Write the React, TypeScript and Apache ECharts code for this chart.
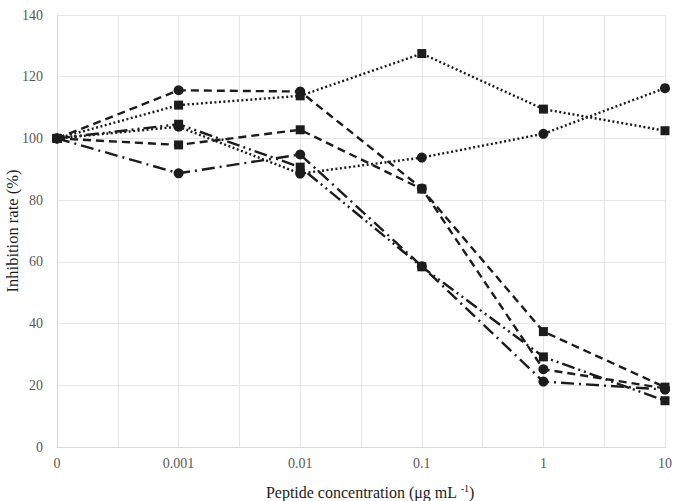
import React, { useEffect, useRef } from "react";
import * as echarts from "echarts";

const categories = ["0", "0.001", "0.01", "0.1", "1", "10"];
const dottedSquare = [100, 110.8, 113.8, 127.5, 109.5, 102.5];
const dottedCircle = [100, 103.8, 88.6, 93.8, 101.5, 116.3];
const dashedCircle = [100, 115.6, 115.2, 83.8, 25.2, 19.0];
const dashedSquare = [100, 97.9, 102.8, 83.6, 37.4, 19.4];
const dashDotCircle = [100, 88.7, 94.8, 58.6, 21.2, 18.6];
const dashDotDotSquare = [100, 104.6, 90.7, 58.4, 29.2, 15.0];
const yTicks = [0, 20, 40, 60, 80, 100, 120, 140];

const FONT = "'Liberation Serif', 'Times New Roman', serif";
const INK = "#1c1c1c";

function toPoints(values: number[]) {
  return values.map((v, i) => [i, v]);
}

export default function App() {
  const ref = useRef<HTMLDivElement>(null);
  useEffect(() => {
    if (!ref.current) return;
    const chart = echarts.init(ref.current, undefined, { renderer: "svg" });
    const mk = (
      name: string,
      values: number[],
      symbol: string,
      dash: number[] | string
    ) => ({
      name,
      type: "line",
      data: toPoints(values),
      symbol,
      symbolSize: symbol === "circle" ? 10 : 9,
      showSymbol: true,
      itemStyle: { color: INK, borderWidth: 0 },
      lineStyle: { color: INK, width: 2.4, type: dash, cap: "butt" },
      z: 3,
    });
    chart.setOption({
      animation: false,
      backgroundColor: "#ffffff",
      grid: {
        left: 57,
        right: 20,
        top: 15,
        bottom: 54,
        containLabel: false,
        outerBoundsMode: "none",
      },
      xAxis: {
        type: "value",
        min: 0,
        max: categories.length - 1,
        interval: 0.5,
        axisLine: { show: true, lineStyle: { color: "#d9d9d9", width: 1 } },
        axisTick: { show: false },
        splitLine: { show: true, lineStyle: { color: "#e6e6e6", width: 1 } },
        axisLabel: {
          margin: 9,
          color: "#595959",
          fontFamily: FONT,
          fontSize: 14,
          formatter: (v: number) =>
            Number.isInteger(v) ? categories[v] ?? "" : "",
        },
        name: "{n|Peptide concentration (μg mL }{s|-1}{n|)}",
        nameLocation: "middle",
        nameGap: 36,
        nameMoveOverlap: false,
        nameTextStyle: {
          padding: [0, 0, 0, 18],
          rich: {
            n: { fontFamily: FONT, fontSize: 16, color: INK, lineHeight: 18 },
            s: {
              fontFamily: FONT,
              fontSize: 10,
              color: INK,
              verticalAlign: "top",
              lineHeight: 11,
            },
          },
        },
      },
      yAxis: {
        type: "value",
        min: yTicks[0],
        max: yTicks[yTicks.length - 1],
        interval: 20,
        axisLine: { show: true, lineStyle: { color: "#d9d9d9", width: 1 } },
        axisTick: { show: false },
        splitLine: { show: true, lineStyle: { color: "#e6e6e6", width: 1 } },
        axisLabel: {
          margin: 14,
          color: "#595959",
          fontFamily: FONT,
          fontSize: 14,
        },
        name: "Inhibition rate (%)",
        nameLocation: "middle",
        nameGap: 36,
        nameMoveOverlap: false,
        nameTextStyle: { fontFamily: FONT, fontSize: 16.5, color: INK },
      },
      series: [
        mk("dottedSquare", dottedSquare, "rect", [2, 2.5]),
        mk("dottedCircle", dottedCircle, "circle", [2, 2.5]),
        mk("dashedCircle", dashedCircle, "circle", [8, 5]),
        mk("dashedSquare", dashedSquare, "rect", [8, 5]),
        mk("dashDotCircle", dashDotCircle, "circle", [13, 5, 2, 5]),
        mk("dashDotDotSquare", dashDotDotSquare, "rect", [13, 4, 2, 4, 2, 4]),
      ],
    });
    return () => chart.dispose();
  }, []);
  return (
    <div
      ref={ref}
      style={{ position: "absolute", left: 0, top: 0, width: 685, height: 501 }}
    />
  );
}
